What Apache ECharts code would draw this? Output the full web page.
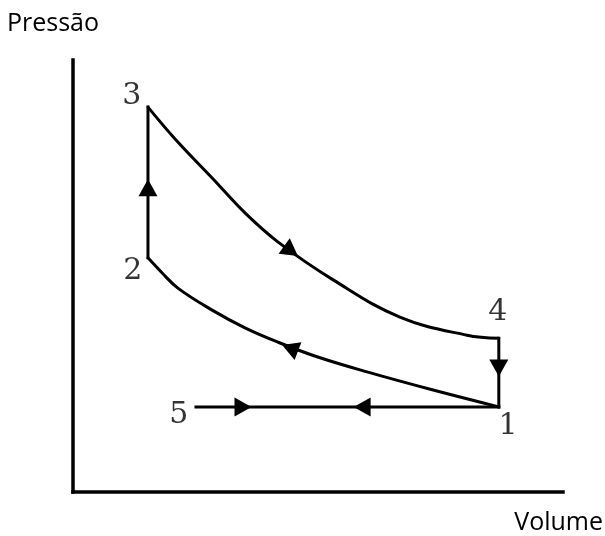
<!DOCTYPE html>
<html>
<head>
<meta charset="utf-8">
<script src="https://cdn.jsdelivr.net/npm/echarts@6/dist/echarts.min.js"></script>
<style>
html,body{margin:0;padding:0;background:#fff;}
#chart{width:605px;height:536px;}
</style>
</head>
<body>
<div id="chart"></div>
<script>
// Otto cycle P-V diagram (arbitrary units)
const expansionV = [15.3, 21.4, 28.4, 35.1, 41.8, 53.1, 66.7, 80.4, 86.9];
const expansionP = [89.1, 81.0, 72.7, 64.6, 57.9, 49.1, 40.5, 36.3, 35.6];
const compressionV = [86.9, 73.5, 60.0, 49.8, 41.8, 35.1, 28.4, 21.4, 18.2, 15.3];
const compressionP = [19.7, 23.6, 27.8, 31.3, 34.7, 38.0, 42.1, 47.2, 50.7, 54.2];
const heatingV = [15.3, 15.3];
const heatingP = [54.2, 89.1];
const exhaustV = [86.9, 86.9];
const exhaustP = [35.6, 19.7];
const intakeV = [25.1, 86.9];
const intakeP = [19.7, 19.7];
const stateNames = ['1', '2', '3', '4', '5'];
const stateLabelV = [88.8, 12.2, 12.0, 86.7, 21.6];
const stateLabelP = [15.3, 51.2, 91.7, 41.7, 17.8];
const arrowV = [15.3, 44.5, 86.9, 44.3, 34.7, 59.0];
const arrowP = [70.4, 55.8, 28.7, 33.3, 19.7, 19.7];
const arrowAngle = [0, -126, 180, 69, -90, 90];

const pts = (vs, ps) => vs.map((v, i) => [v, ps[i]]);
const labels = stateNames.map((n, i) => ({ name: n, value: [stateLabelV[i], stateLabelP[i]] }));
const arrows = arrowV.map((v, i) => ({ value: [v, arrowP[i]], symbolRotate: arrowAngle[i] }));

const chart = echarts.init(document.getElementById('chart'), null, { renderer: 'canvas' });
const axisCommon = {
  type: 'value', min: 0, max: 100,
  axisLine: { show: true, onZero: false, lineStyle: { color: '#000', width: 3.5, cap: 'square' } },
  axisTick: { show: false }, axisLabel: { show: false }, splitLine: { show: false }
};
const straight = (data) => ({ type: 'line', data: data, symbol: 'none', silent: true,
  lineStyle: { color: '#000', width: 3, cap: 'square', opacity: 1 } });
const curve = (data) => ({ type: 'line', data: data, symbol: 'none', silent: true,
  smooth: 0.4,
  lineStyle: { color: '#000', width: 3, cap: 'round', opacity: 1 } });
chart.setOption({
  animation: false,
  backgroundColor: '#fff',
  title: [
    { text: 'Pressão', left: 7, top: 11, padding: 0,
      textStyle: { fontFamily: 'Open Sans', fontSize: 25, fontWeight: 'normal', color: '#000' } },
    { text: 'Volume', right: 2, top: 510, padding: 0,
      textStyle: { fontFamily: 'Open Sans', fontSize: 25, fontWeight: 'normal', color: '#000' } }
  ],
  grid: { left: 73, right: 42, top: 60, bottom: 44 },
  xAxis: axisCommon,
  yAxis: axisCommon,
  series: [
    straight(pts(heatingV, heatingP)),
    curve(pts(expansionV, expansionP)),
    straight(pts(exhaustV, exhaustP)),
    curve(pts(compressionV, compressionP)),
    straight(pts(intakeV, intakeP)),
    { type: 'scatter', data: arrows, symbol: 'triangle', symbolSize: [19, 17], silent: true,
      itemStyle: { color: '#000', opacity: 1 } },
    { type: 'scatter', data: labels, symbolSize: 0, silent: true,
      label: { show: true, position: 'inside', formatter: '{b}',
        fontFamily: 'DejaVu Serif', fontSize: 30, color: '#000' } }
  ]
});
</script>
</body>
</html>
